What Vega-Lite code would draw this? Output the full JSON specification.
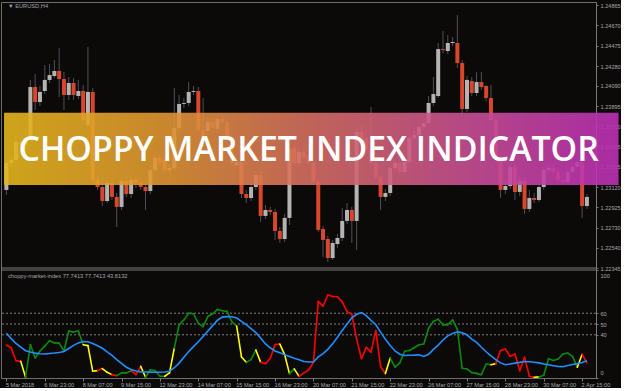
{
  "$schema": "https://vega.github.io/schema/vega-lite/v6.json",
  "background": "#0c0a09",
  "padding": {"left": 0, "top": 2, "right": 0, "bottom": 0},
  "autosize": {"type": "pad"},
  "width": 595,
  "height": 376,
  "config": {
    "view": {"stroke": "#6e6e6e", "strokeWidth": 1},
    "axis": {"labelFont": "Liberation Sans", "labelFontSize": 5.6, "labelColor": "#a4a6ab", "domainColor": "#7a7a7a", "tickColor": "#7a7a7a", "grid": false, "labelOverlap": false, "labelBound": false}
  },
  "datasets": {
    "candles": [
      {"i":0,"o":1.23093,"h":1.2338,"l":1.23045,"c":1.23351,"cmi":30.5,"sig":41.5,"s":"r"},
      {"i":1,"o":1.23351,"h":1.23428,"l":1.23313,"c":1.2338,"cmi":28,"sig":36.5,"s":"r"},
      {"i":2,"o":1.2338,"h":1.2361,"l":1.23351,"c":1.23553,"cmi":16,"sig":32,"s":"r"},
      {"i":3,"o":1.23553,"h":1.23591,"l":1.23476,"c":1.23524,"cmi":15.4,"sig":28.5,"s":"y"},
      {"i":4,"o":1.23524,"h":1.23668,"l":1.23495,"c":1.23572,"cmi":0.7,"sig":25.3,"s":"g"},
      {"i":5,"o":1.23572,"h":1.24147,"l":1.23543,"c":1.24079,"cmi":31,"sig":24,"s":"g"},
      {"i":6,"o":1.24079,"h":1.24204,"l":1.23859,"c":1.23936,"cmi":18.5,"sig":23,"s":"g"},
      {"i":7,"o":1.23936,"h":1.24089,"l":1.23897,"c":1.24032,"cmi":25,"sig":22.5,"s":"g"},
      {"i":8,"o":1.24041,"h":1.2429,"l":1.24012,"c":1.24147,"cmi":29.5,"sig":22.2,"s":"g"},
      {"i":9,"o":1.24147,"h":1.243,"l":1.24118,"c":1.24194,"cmi":34.5,"sig":22.7,"s":"g"},
      {"i":10,"o":1.24185,"h":1.24338,"l":1.24166,"c":1.24233,"cmi":32.5,"sig":23.1,"s":"g"},
      {"i":11,"o":1.24233,"h":1.24453,"l":1.23984,"c":1.24156,"cmi":32.3,"sig":23.6,"s":"g"},
      {"i":12,"o":1.24156,"h":1.24223,"l":1.23859,"c":1.24003,"cmi":25,"sig":24.5,"s":"g"},
      {"i":13,"o":1.24003,"h":1.24175,"l":1.23955,"c":1.24118,"cmi":43.5,"sig":27.3,"s":"g"},
      {"i":14,"o":1.24118,"h":1.24166,"l":1.23955,"c":1.24003,"cmi":42.5,"sig":30.2,"s":"g"},
      {"i":15,"o":1.23993,"h":1.24147,"l":1.23965,"c":1.24041,"cmi":43.7,"sig":32.5,"s":"g"},
      {"i":16,"o":1.24041,"h":1.24099,"l":1.23715,"c":1.23763,"cmi":30.8,"sig":33.8,"s":"y"},
      {"i":17,"o":1.23715,"h":1.24463,"l":1.23687,"c":1.24032,"cmi":30,"sig":33.5,"s":"y"},
      {"i":18,"o":1.24032,"h":1.2407,"l":1.23141,"c":1.23189,"cmi":6.2,"sig":32,"s":"y"},
      {"i":19,"o":1.23189,"h":1.23227,"l":1.23093,"c":1.23121,"cmi":6.8,"sig":29.8,"s":"r"},
      {"i":20,"o":1.23121,"h":1.2316,"l":1.22939,"c":1.22987,"cmi":8.7,"sig":27.5,"s":"y"},
      {"i":21,"o":1.22987,"h":1.23189,"l":1.22968,"c":1.2316,"cmi":5.3,"sig":24.2,"s":"y"},
      {"i":22,"o":1.2316,"h":1.23208,"l":1.22997,"c":1.23026,"cmi":3.1,"sig":21,"s":"r"},
      {"i":23,"o":1.23026,"h":1.23064,"l":1.22738,"c":1.2293,"cmi":2.2,"sig":17,"s":"g"},
      {"i":24,"o":1.2293,"h":1.23217,"l":1.22901,"c":1.23179,"cmi":4.7,"sig":13.5,"s":"g"},
      {"i":25,"o":1.23179,"h":1.23227,"l":1.23026,"c":1.23054,"cmi":4.7,"sig":10,"s":"g"},
      {"i":26,"o":1.23054,"h":1.23236,"l":1.23016,"c":1.23189,"cmi":6.8,"sig":7.8,"s":"r"},
      {"i":27,"o":1.23189,"h":1.23227,"l":1.23112,"c":1.2316,"cmi":3.1,"sig":6.5,"s":"r"},
      {"i":28,"o":1.2316,"h":1.23198,"l":1.23093,"c":1.23121,"cmi":10.8,"sig":5.7,"s":"y"},
      {"i":29,"o":1.23121,"h":1.2316,"l":1.22901,"c":1.23083,"cmi":0.7,"sig":5.5,"s":"g"},
      {"i":30,"o":1.23083,"h":1.23323,"l":1.23054,"c":1.23284,"cmi":7.7,"sig":5.4,"s":"g"},
      {"i":31,"o":1.23284,"h":1.23428,"l":1.23265,"c":1.23399,"cmi":6.8,"sig":5.3,"s":"g"},
      {"i":32,"o":1.23399,"h":1.23438,"l":1.23323,"c":1.23351,"cmi":1.6,"sig":5.3,"s":"g"},
      {"i":33,"o":1.2338,"h":1.23418,"l":1.23256,"c":1.23284,"cmi":1.6,"sig":5.5,"s":"y"},
      {"i":34,"o":1.23284,"h":1.23342,"l":1.23246,"c":1.23304,"cmi":4.7,"sig":6.3,"s":"y"},
      {"i":35,"o":1.23304,"h":1.2407,"l":1.23275,"c":1.23687,"cmi":27.7,"sig":9.5,"s":"g"},
      {"i":36,"o":1.23687,"h":1.24003,"l":1.23648,"c":1.23917,"cmi":49.2,"sig":13.8,"s":"g"},
      {"i":37,"o":1.23917,"h":1.23974,"l":1.23878,"c":1.23926,"cmi":53.8,"sig":19.3,"s":"g"},
      {"i":38,"o":1.23926,"h":1.24127,"l":1.23897,"c":1.24032,"cmi":60,"sig":24.5,"s":"g"},
      {"i":39,"o":1.24032,"h":1.24089,"l":1.24003,"c":1.24041,"cmi":59.5,"sig":29,"s":"g"},
      {"i":40,"o":1.24041,"h":1.24079,"l":1.23639,"c":1.23668,"cmi":50.5,"sig":33.5,"s":"g"},
      {"i":41,"o":1.23668,"h":1.23974,"l":1.23553,"c":1.23581,"cmi":47.5,"sig":38.4,"s":"g"},
      {"i":42,"o":1.23658,"h":1.23782,"l":1.2362,"c":1.23744,"cmi":57,"sig":43.5,"s":"g"},
      {"i":43,"o":1.23744,"h":1.23782,"l":1.23658,"c":1.23687,"cmi":59.5,"sig":48.5,"s":"g"},
      {"i":44,"o":1.23677,"h":1.23821,"l":1.23648,"c":1.23773,"cmi":63.5,"sig":53.5,"s":"g"},
      {"i":45,"o":1.23773,"h":1.23821,"l":1.23715,"c":1.23744,"cmi":62.3,"sig":56.4,"s":"g"},
      {"i":46,"o":1.23744,"h":1.23782,"l":1.23572,"c":1.236,"cmi":61.7,"sig":56.8,"s":"g"},
      {"i":47,"o":1.236,"h":1.23639,"l":1.23323,"c":1.23351,"cmi":52,"sig":56.7,"s":"g"},
      {"i":48,"o":1.23332,"h":1.23399,"l":1.23304,"c":1.23361,"cmi":48,"sig":55.5,"s":"y"},
      {"i":49,"o":1.23361,"h":1.23399,"l":1.23016,"c":1.23054,"cmi":19.5,"sig":52.5,"s":"y"},
      {"i":50,"o":1.23054,"h":1.23093,"l":1.22968,"c":1.23016,"cmi":14.5,"sig":49.4,"s":"g"},
      {"i":51,"o":1.23016,"h":1.2315,"l":1.22987,"c":1.23121,"cmi":17,"sig":45.8,"s":"g"},
      {"i":52,"o":1.23121,"h":1.23275,"l":1.23093,"c":1.23236,"cmi":26,"sig":42,"s":"y"},
      {"i":53,"o":1.23236,"h":1.23265,"l":1.22786,"c":1.22844,"cmi":14.5,"sig":37,"s":"r"},
      {"i":54,"o":1.22844,"h":1.22949,"l":1.22815,"c":1.22901,"cmi":13.3,"sig":31.5,"s":"r"},
      {"i":55,"o":1.22901,"h":1.2293,"l":1.22853,"c":1.22882,"cmi":18,"sig":28,"s":"r"},
      {"i":56,"o":1.22882,"h":1.22911,"l":1.22614,"c":1.227,"cmi":31,"sig":25,"s":"r"},
      {"i":57,"o":1.227,"h":1.22738,"l":1.22585,"c":1.22623,"cmi":31.4,"sig":23.3,"s":"y"},
      {"i":58,"o":1.22623,"h":1.22863,"l":1.22595,"c":1.22825,"cmi":21.6,"sig":21.5,"s":"y"},
      {"i":59,"o":1.22825,"h":1.23524,"l":1.22757,"c":1.23486,"cmi":4.1,"sig":20,"s":"g"},
      {"i":60,"o":1.23495,"h":1.23533,"l":1.23323,"c":1.23351,"cmi":8.4,"sig":18.3,"s":"y"},
      {"i":61,"o":1.23351,"h":1.23495,"l":1.23332,"c":1.23457,"cmi":1.5,"sig":17,"s":"r"},
      {"i":62,"o":1.23457,"h":1.23495,"l":1.23371,"c":1.23399,"cmi":4.7,"sig":15.2,"s":"r"},
      {"i":63,"o":1.23428,"h":1.23476,"l":1.23323,"c":1.23351,"cmi":7.4,"sig":14.8,"s":"r"},
      {"i":64,"o":1.23351,"h":1.2338,"l":1.23141,"c":1.23169,"cmi":14.5,"sig":14.8,"s":"r"},
      {"i":65,"o":1.23169,"h":1.23189,"l":1.2269,"c":1.2271,"cmi":71,"sig":19.5,"s":"r"},
      {"i":66,"o":1.22719,"h":1.22748,"l":1.22451,"c":1.22614,"cmi":66.5,"sig":22.6,"s":"r"},
      {"i":67,"o":1.22623,"h":1.22652,"l":1.22403,"c":1.22441,"cmi":76.9,"sig":26.5,"s":"r"},
      {"i":68,"o":1.22441,"h":1.22614,"l":1.22422,"c":1.22585,"cmi":75.5,"sig":31.6,"s":"r"},
      {"i":69,"o":1.22575,"h":1.22671,"l":1.22537,"c":1.22633,"cmi":75.3,"sig":37.7,"s":"r"},
      {"i":70,"o":1.22633,"h":1.2292,"l":1.22604,"c":1.22796,"cmi":70.5,"sig":43.9,"s":"r"},
      {"i":71,"o":1.22796,"h":1.22968,"l":1.22767,"c":1.22901,"cmi":61.5,"sig":50,"s":"r"},
      {"i":72,"o":1.22901,"h":1.2293,"l":1.22585,"c":1.22796,"cmi":59,"sig":55.7,"s":"r"},
      {"i":73,"o":1.22796,"h":1.23687,"l":1.22518,"c":1.23648,"cmi":36,"sig":59,"s":"r"},
      {"i":74,"o":1.23648,"h":1.23715,"l":1.23562,"c":1.23591,"cmi":18,"sig":60.5,"s":"r"},
      {"i":75,"o":1.23591,"h":1.23629,"l":1.23447,"c":1.23476,"cmi":28.3,"sig":57.8,"s":"r"},
      {"i":76,"o":1.23476,"h":1.23888,"l":1.23323,"c":1.23351,"cmi":24,"sig":53.3,"s":"r"},
      {"i":77,"o":1.23351,"h":1.2338,"l":1.23189,"c":1.23217,"cmi":44,"sig":49.3,"s":"r"},
      {"i":78,"o":1.23217,"h":1.23246,"l":1.22901,"c":1.23026,"cmi":10.5,"sig":42.5,"s":"r"},
      {"i":79,"o":1.23026,"h":1.23102,"l":1.22987,"c":1.23064,"cmi":4.1,"sig":35.8,"s":"y"},
      {"i":80,"o":1.23064,"h":1.23332,"l":1.23035,"c":1.23304,"cmi":18.5,"sig":30,"s":"g"},
      {"i":81,"o":1.23304,"h":1.2338,"l":1.23275,"c":1.23351,"cmi":10,"sig":25,"s":"g"},
      {"i":82,"o":1.23351,"h":1.2339,"l":1.23236,"c":1.23265,"cmi":14,"sig":22,"s":"g"},
      {"i":83,"o":1.23265,"h":1.23399,"l":1.23236,"c":1.23361,"cmi":24.8,"sig":20.8,"s":"g"},
      {"i":84,"o":1.23361,"h":1.23629,"l":1.23332,"c":1.23591,"cmi":25.5,"sig":21,"s":"g"},
      {"i":85,"o":1.23591,"h":1.23668,"l":1.23562,"c":1.2362,"cmi":28,"sig":21.2,"s":"g"},
      {"i":86,"o":1.2362,"h":1.23744,"l":1.23591,"c":1.23696,"cmi":30.8,"sig":21.5,"s":"g"},
      {"i":87,"o":1.23696,"h":1.23773,"l":1.23668,"c":1.23735,"cmi":31.5,"sig":20,"s":"g"},
      {"i":88,"o":1.23735,"h":1.23993,"l":1.23706,"c":1.23926,"cmi":46,"sig":22,"s":"g"},
      {"i":89,"o":1.23926,"h":1.24175,"l":1.23897,"c":1.24012,"cmi":52.3,"sig":26.5,"s":"g"},
      {"i":90,"o":1.23993,"h":1.24501,"l":1.23974,"c":1.24443,"cmi":54.5,"sig":30.5,"s":"g"},
      {"i":91,"o":1.24443,"h":1.24616,"l":1.24405,"c":1.24434,"cmi":49.2,"sig":35.2,"s":"g"},
      {"i":92,"o":1.24424,"h":1.24578,"l":1.24396,"c":1.24501,"cmi":49.2,"sig":39,"s":"g"},
      {"i":93,"o":1.24501,"h":1.24558,"l":1.24472,"c":1.24511,"cmi":53.8,"sig":41.3,"s":"g"},
      {"i":94,"o":1.24501,"h":1.24769,"l":1.24262,"c":1.24309,"cmi":45,"sig":42.8,"s":"g"},
      {"i":95,"o":1.24309,"h":1.24338,"l":1.2383,"c":1.23869,"cmi":9,"sig":41.8,"s":"g"},
      {"i":96,"o":1.23869,"h":1.24185,"l":1.2384,"c":1.24147,"cmi":8.4,"sig":40,"s":"g"},
      {"i":97,"o":1.24137,"h":1.24175,"l":1.23993,"c":1.24022,"cmi":5,"sig":36,"s":"g"},
      {"i":98,"o":1.24022,"h":1.24223,"l":1.23993,"c":1.24127,"cmi":4.3,"sig":33,"s":"g"},
      {"i":99,"o":1.24127,"h":1.24223,"l":1.24051,"c":1.24079,"cmi":3.1,"sig":28.5,"s":"g"},
      {"i":100,"o":1.24089,"h":1.24099,"l":1.23945,"c":1.23974,"cmi":13,"sig":24.3,"s":"g"},
      {"i":101,"o":1.23974,"h":1.24099,"l":1.23725,"c":1.23763,"cmi":12.3,"sig":20.5,"s":"y"},
      {"i":102,"o":1.23763,"h":1.23802,"l":1.2338,"c":1.23409,"cmi":13.3,"sig":17,"s":"r"},
      {"i":103,"o":1.23409,"h":1.23447,"l":1.23016,"c":1.23093,"cmi":25.5,"sig":14,"s":"r"},
      {"i":104,"o":1.23093,"h":1.23189,"l":1.23054,"c":1.23131,"cmi":26.8,"sig":12.3,"s":"r"},
      {"i":105,"o":1.23131,"h":1.23351,"l":1.23102,"c":1.23313,"cmi":20,"sig":13,"s":"r"},
      {"i":106,"o":1.23313,"h":1.23351,"l":1.22997,"c":1.23074,"cmi":22.2,"sig":13.8,"s":"r"},
      {"i":107,"o":1.23074,"h":1.23236,"l":1.23035,"c":1.23179,"cmi":6.8,"sig":14.5,"s":"r"},
      {"i":108,"o":1.23179,"h":1.23217,"l":1.22863,"c":1.22911,"cmi":19.1,"sig":15.3,"s":"r"},
      {"i":109,"o":1.22911,"h":1.23093,"l":1.22882,"c":1.23016,"cmi":1.6,"sig":15,"s":"r"},
      {"i":110,"o":1.23016,"h":1.23064,"l":1.22968,"c":1.22997,"cmi":0.7,"sig":14.6,"s":"y"},
      {"i":111,"o":1.22997,"h":1.2316,"l":1.22978,"c":1.23121,"cmi":1,"sig":14,"s":"g"},
      {"i":112,"o":1.23121,"h":1.23323,"l":1.23093,"c":1.23284,"cmi":2.5,"sig":13,"s":"g"},
      {"i":113,"o":1.23284,"h":1.23342,"l":1.23256,"c":1.23304,"cmi":17.9,"sig":12.2,"s":"g"},
      {"i":114,"o":1.23304,"h":1.23342,"l":1.23236,"c":1.23265,"cmi":16.3,"sig":11.4,"s":"g"},
      {"i":115,"o":1.23265,"h":1.23304,"l":1.2316,"c":1.23189,"cmi":17.6,"sig":10.6,"s":"g"},
      {"i":116,"o":1.23189,"h":1.23265,"l":1.23141,"c":1.23169,"cmi":22.2,"sig":10.5,"s":"g"},
      {"i":117,"o":1.23169,"h":1.23294,"l":1.23141,"c":1.23265,"cmi":23.1,"sig":11.5,"s":"g"},
      {"i":118,"o":1.23265,"h":1.23351,"l":1.23227,"c":1.23313,"cmi":20,"sig":12.5,"s":"g"},
      {"i":119,"o":1.23313,"h":1.23399,"l":1.23284,"c":1.23361,"cmi":10,"sig":13.3,"s":"y"},
      {"i":120,"o":1.23361,"h":1.2339,"l":1.22825,"c":1.22939,"cmi":22,"sig":14.3,"s":"r"},
      {"i":121,"o":1.22939,"h":1.23054,"l":1.22911,"c":1.23026,"cmi":14,"sig":16,"s":"r"}
    ],
    "levels": [{"v": 40}, {"v": 50}, {"v": 60}],
    "panelTop": [{"v": 100}],
    "panelBottom": [{"p": 1.22345}],
    "banner": [{"x0": -0.49, "x1": 127.59, "p0": 1.23833, "p1": 1.23141, "xt": 63.0, "pt": 1.23371, "t": "CHOPPY MARKET INDEX INDICATOR"}],
    "symbol": [{"i": 0.33, "p": 1.24851, "t": "▼ EURUSD,H4"}],
    "indname": [{"i": 0.33, "v": 94, "t": "choppy-market-index 77.7413 77.7413 43.8132"}]
  },
  "resolve": {"scale": {"y": "independent"}, "axis": {"y": "independent"}},
  "layer": [
    {
      "layer": [
        {
          "data": {"name": "candles"},
          "mark": {"type": "rule", "color": "#4d5058", "strokeWidth": 1},
          "encoding": {
            "x": {"field": "i", "type": "quantitative", "scale": {"domain": [-0.08, 121.85], "nice": false, "zero": false}, "axis": {"title": null}},
            "y": {"field": "l", "type": "quantitative", "scale": {"domain": [1.22345, 1.24894], "range": [266, 0], "nice": false, "zero": false},
                  "axis": {"orient": "right", "title": null, "values": [1.24865, 1.2467, 1.24475, 1.2428, 1.2409, 1.23895, 1.237, 1.23505, 1.23315, 1.2312, 1.22925, 1.2273, 1.2254, 1.22345], "tickCount": 100, "format": ".5f", "tickSize": 2, "labelPadding": 2, "labelOverlap": false, "labelBound": false}},
            "y2": {"field": "h"}
          }
        },
        {
          "data": {"name": "candles"},
          "mark": {"type": "bar", "width": 4},
          "encoding": {
            "x": {"field": "i", "type": "quantitative", "axis": {"title": null}},
            "y": {"field": "o", "type": "quantitative", "axis": {"title": null}},
            "y2": {"field": "c"},
            "color": {"condition": {"test": "datum.c >= datum.o", "value": "#b4b4b4"}, "value": "#d8472b"}
          }
        },
        {
          "data": {"name": "panelBottom"},
          "mark": {"type": "rule", "color": "#7a7a7a", "strokeWidth": 1.2},
          "encoding": {
            "y": {"field": "p", "type": "quantitative", "axis": {"title": null}}
          }
        },
        {
          "data": {"name": "banner"},
          "mark": {"type": "rect", "opacity": 0.9, "color": {"gradient": "linear", "x1": 0, "y1": 0, "x2": 1, "y2": 0, "stops": [
            {"offset": 0, "color": "#e3b51c"},
            {"offset": 0.25, "color": "#df9630"},
            {"offset": 0.5, "color": "#d46d62"},
            {"offset": 0.75, "color": "#c84f93"},
            {"offset": 1, "color": "#bb2fb4"}
          ]}},
          "encoding": {
            "x": {"field": "x0", "type": "quantitative", "axis": {"title": null}},
            "x2": {"field": "x1"},
            "y": {"field": "p0", "type": "quantitative", "axis": {"title": null}},
            "y2": {"field": "p1"}
          }
        },
        {
          "data": {"name": "banner"},
          "mark": {"type": "text", "font": "Open Sans", "fontWeight": 600, "fontSize": 33.8, "color": "#ffffff", "align": "center", "baseline": "alphabetic"},
          "encoding": {
            "x": {"field": "xt", "type": "quantitative", "axis": {"title": null}},
            "y": {"field": "pt", "type": "quantitative", "axis": {"title": null}},
            "text": {"field": "t"}
          }
        },
        {
          "data": {"name": "symbol"},
          "mark": {"type": "text", "font": "Liberation Sans", "fontSize": 5.7, "color": "#9ea4b2", "align": "left", "baseline": "middle"},
          "encoding": {
            "x": {"field": "i", "type": "quantitative", "axis": {"title": null}},
            "y": {"field": "p", "type": "quantitative", "axis": {"title": null}},
            "text": {"field": "t"}
          }
        }
      ]
    },
    {
      "layer": [
        {
          "data": {"name": "levels"},
          "mark": {"type": "rule", "color": "#a0a0a0", "strokeWidth": 0.8, "strokeDash": [2, 2]},
          "encoding": {
            "y": {"field": "v", "type": "quantitative", "scale": {"domain": [0, 100], "range": [376, 268], "nice": false}, "axis": {"orient": "right", "title": null, "values": [0, 40, 50, 60, 100], "tickCount": 100, "labelFlush": true, "labelFlushOffset": -3, "tickSize": 2, "labelPadding": 2, "labelOverlap": false, "labelBound": false}}
          }
        },
        {
          "data": {"name": "panelTop"},
          "mark": {"type": "rule", "color": "#7a7a7a", "strokeWidth": 1.2},
          "encoding": {
            "y": {"field": "v", "type": "quantitative", "axis": {"title": null}}
          }
        },
        {
          "data": {"name": "candles"},
          "transform": [
            {"window": [{"op": "lead", "field": "i", "as": "i2"}, {"op": "lead", "field": "cmi", "as": "cmi2"}], "sort": [{"field": "i"}]},
            {"filter": "datum.i2 != null"}
          ],
          "mark": {"type": "rule", "strokeWidth": 1.6, "strokeCap": "round"},
          "encoding": {
            "x": {"field": "i", "type": "quantitative", "scale": {"domain": [-0.08, 121.85], "nice": false, "zero": false},
                  "axis": {"orient": "bottom", "title": null, "values": [0, 8, 16, 24, 32, 40, 48, 56, 64, 72, 80, 88, 96, 104, 112, 120], "tickCount": 100,
                           "labelExpr": "['5 Mar 2018','6 Mar 23:00','8 Mar 07:00','9 Mar 15:00','12 Mar 23:00','14 Mar 07:00','15 Mar 15:00','16 Mar 23:00','20 Mar 07:00','21 Mar 15:00','22 Mar 23:00','26 Mar 07:00','27 Mar 15:00','28 Mar 23:00','30 Mar 07:00','2 Apr 15:00'][round(datum.value / 8)]",
                           "labelAlign": "left", "labelOffset": -1, "tickSize": 3, "labelPadding": 1, "domain": false, "labelOverlap": false, "labelBound": false}},
            "x2": {"field": "i2"},
            "y": {"field": "cmi", "type": "quantitative", "axis": {"title": null}},
            "y2": {"field": "cmi2"},
            "color": {"field": "s", "type": "nominal", "scale": {"domain": ["r", "g", "y"], "range": ["#ff0000", "#0b8a0b", "#ffff00"]}, "legend": null}
          }
        },
        {
          "data": {"name": "candles"},
          "mark": {"type": "line", "color": "#1e8fff", "strokeWidth": 1.6},
          "encoding": {
            "x": {"field": "i", "type": "quantitative", "axis": {"title": null}},
            "y": {"field": "sig", "type": "quantitative", "axis": {"title": null}}
          }
        },
        {
          "data": {"name": "indname"},
          "mark": {"type": "text", "font": "Liberation Sans", "fontSize": 5.7, "color": "#a4a6ab", "align": "left", "baseline": "middle"},
          "encoding": {
            "x": {"field": "i", "type": "quantitative", "axis": {"title": null}},
            "y": {"field": "v", "type": "quantitative", "axis": {"title": null}},
            "text": {"field": "t"}
          }
        }
      ]
    }
  ]
}
